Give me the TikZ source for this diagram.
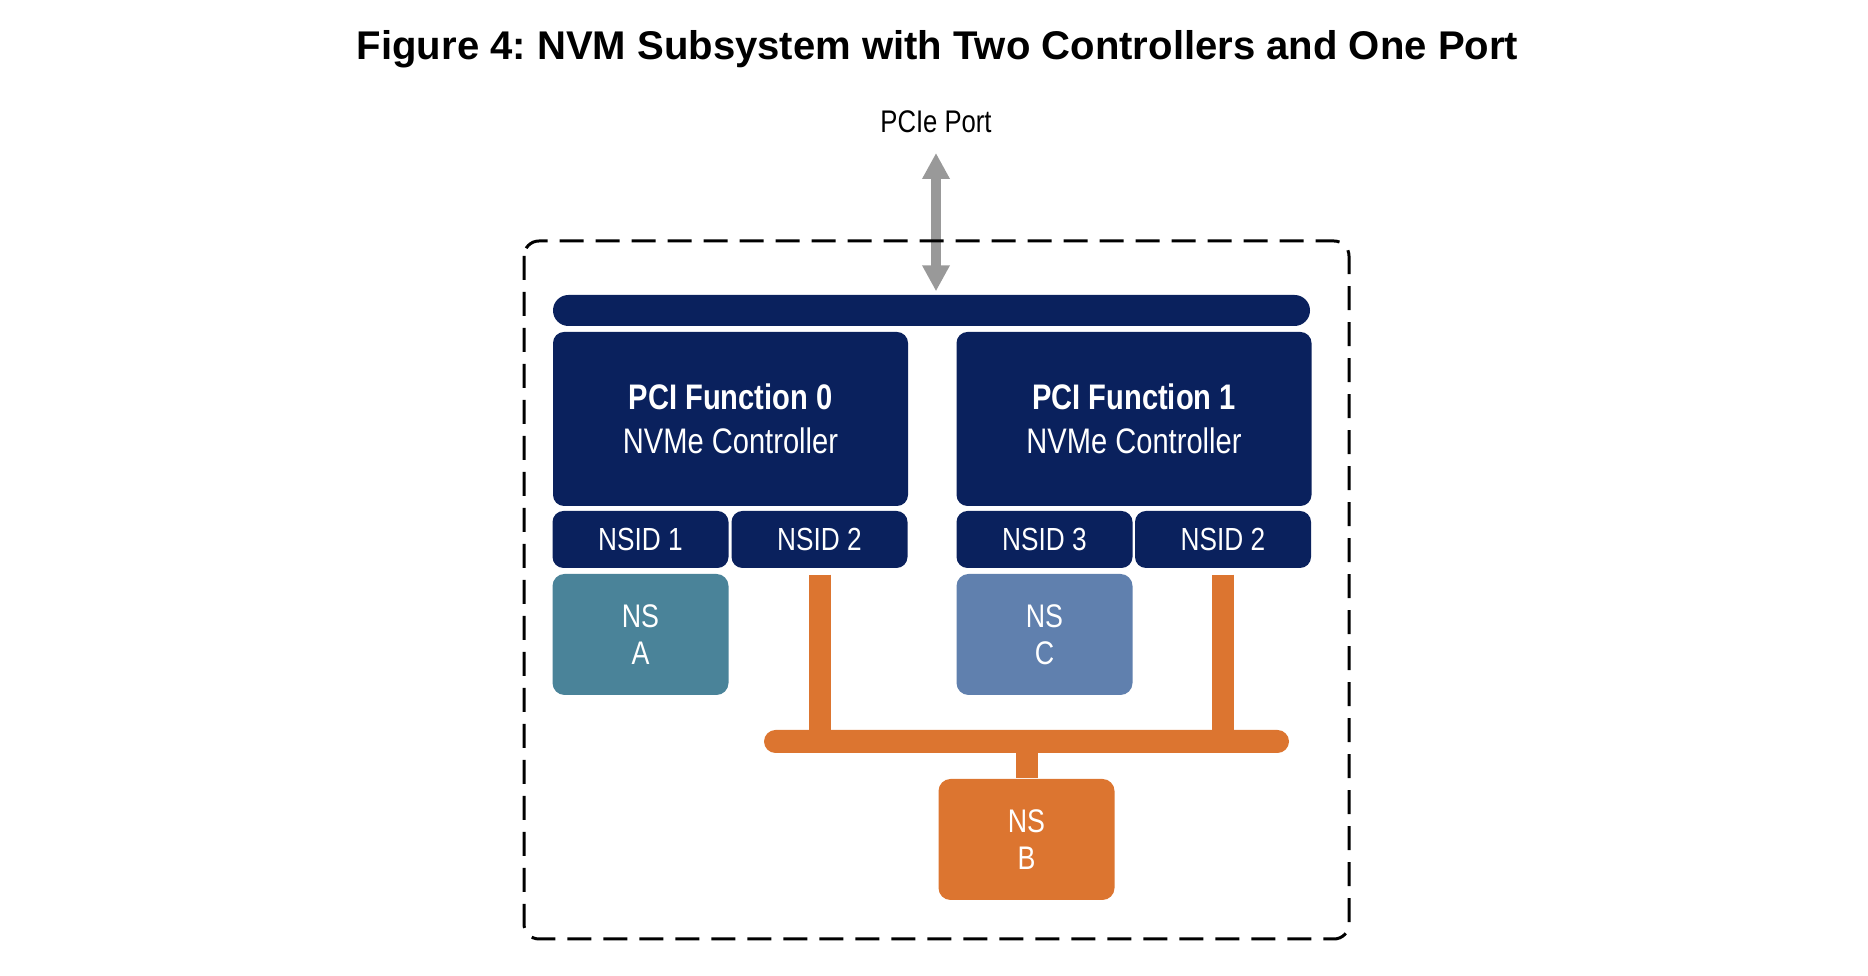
\documentclass[tikz,border=0pt]{standalone}
\usepackage{fontspec}
\setmainfont{Liberation Sans}
\newfontfamily\narrowfont[FakeStretch=0.82]{Liberation Sans}
\usetikzlibrary{arrows.meta}
\definecolor{navy}{RGB}{10,33,93}
\definecolor{nsteal}{RGB}{74,131,153}
\definecolor{nsblue}{RGB}{96,128,174}
\definecolor{nsorange}{RGB}{220,117,48}
\definecolor{portgray}{RGB}{153,153,153}
\frenchspacing

\begin{document}
\begin{tikzpicture}[x = 0.1mm, y = -0.1mm,
        blk/.style = {fill = navy, rounded corners = 1.1mm, text = white, inner sep = 0, align = center,
            minimum width = 35.5mm, minimum height = 17.4mm, font = \narrowfont\fontsize{10.1}{12.5}\selectfont},
        nsid/.style = {blk, minimum width = 17.6mm, minimum height = 5.7mm, font = \narrowfont\fontsize{9.1}{11}\selectfont},
        ns/.style = {nsid, minimum height = 12.1mm, rounded corners = 1.2mm, font = \narrowfont\fontsize{9.3}{10.5}\selectfont},
        share/.style = {nsorange, line width = 2.2mm}]
    \useasboundingbox (0, 0) rectangle (1868, 976);
    \node[anchor = base, font = \bfseries\fontsize{11.4}{13}\selectfont] (title) at (937.5, 60) {Figure 4: NVM Subsystem with Two Controllers and One Port};
    \node[anchor = base, inner sep = 0, font = \narrowfont\fontsize{8.9}{10}\selectfont] (port) at (936, 133) {PCIe Port};

    \node[blk, minimum width = 75.7mm, minimum height = 3.1mm, rounded corners = 1.55mm] (bus) at (931.5, 310.5) {};
    \node[blk] (ctrl0) at (730.5, 419) {\textbf{PCI Function 0}\\NVMe Controller};
    \node[blk] (ctrl1) at (1134, 419) {\textbf{PCI Function 1}\\NVMe Controller};
    \node[nsid] (nsid1) at (640.5, 539.5) {NSID 1};
    \node[nsid] (nsid2) at (819.5, 539.5) {NSID 2};
    \node[nsid] (nsid3) at (1044.5, 539.5) {NSID 3};
    \node[nsid] (nsid2b) at (1223, 539.5) {NSID 2};
    \node[ns, fill = nsteal] (nsA) at (640.5, 634.5) {NS\\A};
    \node[ns, fill = nsblue] (nsC) at (1044.5, 634.5) {NS\\C};
    \node[ns, fill = nsorange] (nsB) at (1026.5, 839.5) {NS\\B};

    % shared namespace B
    \node[fill = nsorange, minimum width = 52.5mm, minimum height = 2.3mm, rounded corners = 1.15mm, inner sep = 0] (hub) at (1026.5, 741.5) {};
    \draw[share] ([yshift = -0.6mm]nsid2.south) -- (nsid2.south |- hub.center);
    \draw[share] ([yshift = -0.6mm]nsid2b.south) -- (nsid2b.south |- hub.center);
    \draw[share] (hub.center -| nsB.north) -- (nsB.north);

    \draw[portgray, line width = 0.95mm, {Triangle[width = 2.6mm, length = 2.6mm]}-{Triangle[width = 2.6mm, length = 2.6mm]},
        shorten < = 1.9mm, shorten > = 0.3mm] (port.south) -- (port.south |- bus.north);
    \draw[line width = 0.3mm, dash pattern = on 2.4mm off 1.2mm, rounded corners = 1.5mm] (524, 241) rectangle (1349, 939);
\end{tikzpicture}
\end{document}
